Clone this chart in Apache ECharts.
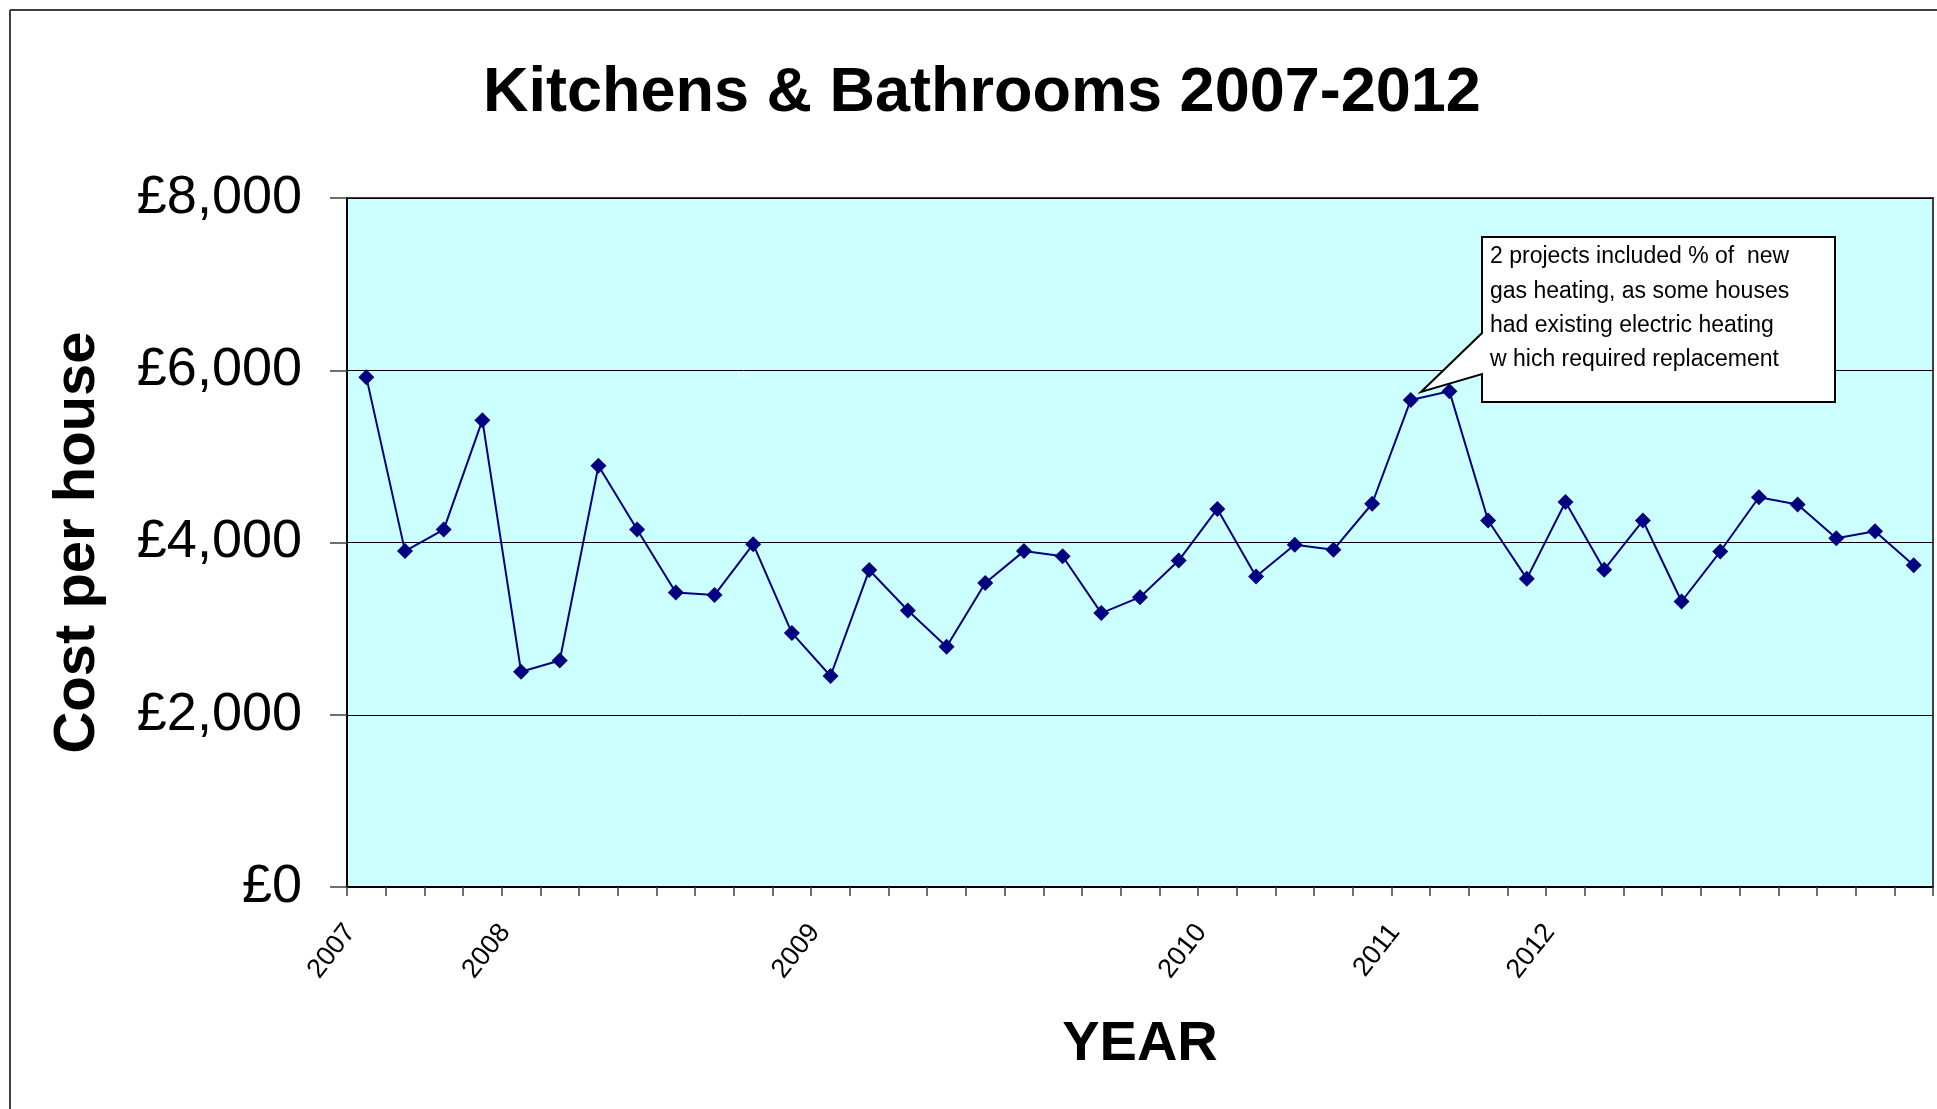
<!DOCTYPE html>
<html>
<head>
<meta charset="utf-8">
<script src="https://cdn.jsdelivr.net/npm/echarts@6/dist/echarts.min.js"></script>
<style>
html,body{margin:0;padding:0;background:#fff;}
#chart{width:1937px;height:1109px;}
</style>
</head>
<body>
<div id="chart"></div>
<script>
// ---- data ----
const categories = ['2007','','','','2008','','','','','','','','2009','','','','','','','','','','2010','','','','','2011','','','','2012','','','','','','','','',''];
const costPerHouse = [5920, 3900, 4150, 5420, 2500, 2630, 4890, 4150, 3420, 3390,
                      3980, 2950, 2450, 3680, 3210, 2790, 3530, 3900, 3840, 3180,
                      3365, 3790, 4390, 3605, 3975, 3915, 4450, 5655, 5755, 4255,
                      3580, 4470, 3685, 4255, 3315, 3895, 4525, 4440, 4050, 4130, 3735];
const yTickLabels = ['£0', '£2,000', '£4,000', '£6,000', '£8,000'];
const titleText = 'Kitchens & Bathrooms 2007-2012';
const yAxisTitle = 'Cost per house';
const xAxisTitle = 'YEAR';
const noteLines = ['2 projects included % of  new', 'gas heating, as some houses', 'had existing electric heating', 'w hich required replacement'];

const FONT = 'Liberation Sans, Arial, sans-serif';
const chart = echarts.init(document.getElementById('chart'), null, {renderer: 'canvas'});

const noteTexts = noteLines.map((t, i) => ({
  type: 'text', z: 102, left: 1490, top: 245.5 + i * 34.3,
  style: {text: t, font: '23px ' + FONT, fill: '#000'}
}));

chart.setOption({
  animation: false,
  backgroundColor: '#fff',
  title: {
    text: titleText, left: 483, top: 62, padding: 0,
    textStyle: {fontSize: 63, fontWeight: 'bold', color: '#000', fontFamily: FONT}
  },
  grid: {
    left: 347, right: 4, top: 198, bottom: 222, show: true,
    backgroundColor: '#CCFFFF', borderColor: '#404040', borderWidth: 2
  },
  xAxis: {
    type: 'category', data: categories, boundaryGap: true,
    axisLine: {lineStyle: {color: '#000', width: 2}},
    axisTick: {show: true, interval: 0, length: 9, lineStyle: {color: '#404040', width: 1.5}},
    axisLabel: {interval: 0, rotate: 52, fontSize: 27, margin: 20, padding: [0, 26, 0, 0],
      color: '#000', fontFamily: FONT, hideOverlap: false},
    name: xAxisTitle, nameLocation: 'middle', nameGap: 130,
    nameTextStyle: {fontSize: 56, fontWeight: 'bold', color: '#000', fontFamily: FONT}
  },
  yAxis: {
    type: 'value', min: 0, max: 8000, interval: 2000,
    axisLine: {show: true, lineStyle: {color: '#000', width: 2}},
    axisTick: {show: true, length: 17, lineStyle: {color: '#404040', width: 1.5}},
    axisLabel: {fontSize: 54, margin: 45, color: '#000', fontFamily: FONT,
      formatter: v => yTickLabels[Math.round(v / 2000)]},
    splitLine: {show: true, lineStyle: {color: '#000', width: 1}},
    name: yAxisTitle, nameLocation: 'middle', nameGap: 240, nameRotate: 90,
    nameTextStyle: {fontSize: 58, fontWeight: 'bold', color: '#000', fontFamily: FONT}
  },
  series: [{
    type: 'line', data: costPerHouse,
    symbol: 'diamond', symbolSize: 16, showSymbol: true,
    itemStyle: {color: '#000080'},
    lineStyle: {color: '#000080', width: 2}
  }],
  graphic: [
    {type: 'line', z: 100, shape: {x1: 10, y1: 10, x2: 10, y2: 1109}, style: {stroke: '#404040', lineWidth: 2}},
    {type: 'line', z: 100, shape: {x1: 10, y1: 10, x2: 1937, y2: 10}, style: {stroke: '#404040', lineWidth: 2}},
    {type: 'polygon', z: 101,
      shape: {points: [[1482, 237], [1835, 237], [1835, 402], [1482, 402], [1482, 374], [1421, 392], [1482, 333]]},
      style: {fill: '#fff', stroke: '#000', lineWidth: 2}}
  ].concat(noteTexts)
});
</script>
</body>
</html>
